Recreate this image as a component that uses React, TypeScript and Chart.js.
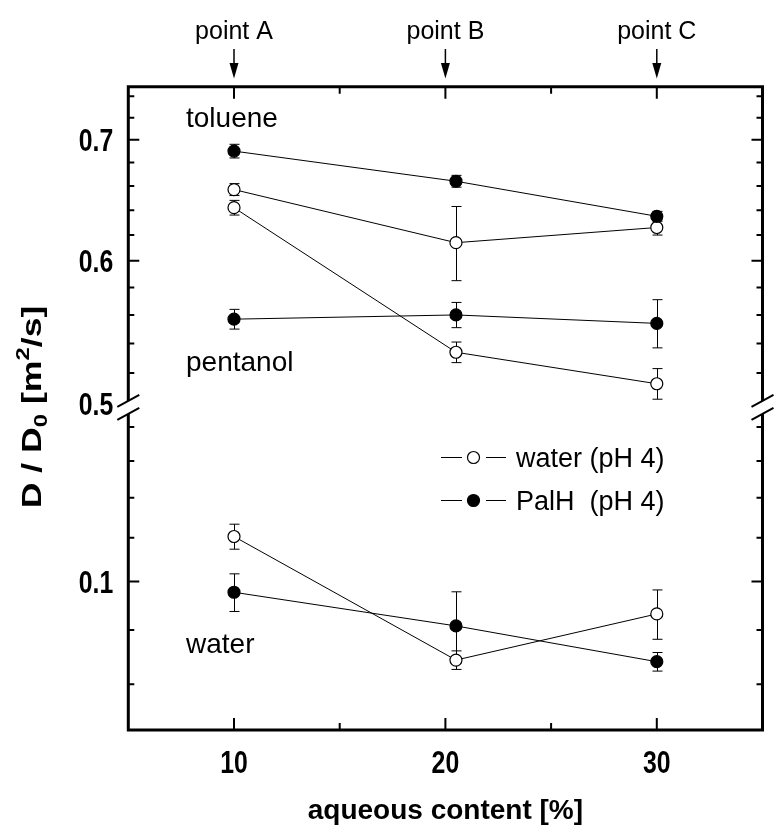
import React, { useEffect, useRef } from "react";
import { Chart, registerables } from "chart.js";

Chart.register(...registerables);

// ---------- data ----------
const xValues = [10, 20.5, 30];

const toluenePalH = [0.69, 0.664, 0.635];
const toluenePalHErr = [0.006, 0.005, 0.004];
const tolueneWater = [0.657, 0.614, 0.626];
const tolueneWaterErr = [0.005, 0.029, 0.006];
const pentanolWater = [0.642, 0.534, 0.513];
const pentanolWaterErr = [0.006, 0.007, 0.01];
const pentanolPalH = [0.557, 0.56, 0.554];
const pentanolPalHErr = [0.007, 0.009, 0.017];
const waterWater = [0.1103, 0.0843, 0.0932];
const waterWaterErr = [0.003, 0.0017, 0.005];
const waterPalH = [0.0977, 0.0908, 0.084];
const waterPalHErr = [0.004, 0.007, 0.0017];

const upperLabelTicks = [0.5, 0.6, 0.7];
const upperMinorTicks = [0.52, 0.54, 0.56, 0.58, 0.62, 0.64, 0.66, 0.68, 0.72, 0.74];
const lowerLabelTicks = [0.1];
const lowerMinorTicks = [0.08, 0.09, 0.11, 0.12, 0.13, 0.14];
const xMajorTicks = [10, 20, 30];
const xMinorTicks = [15, 25];

const pointLabels = ["point A", "point B", "point C"];
const pointPositions = [10, 20, 30];
const solventLabels = ["toluene", "pentanol", "water"];
const legendLabels = ["water (pH 4)", "PalH  (pH 4)"];
const xTitle = "aqueous content [%]";

const SANS = "'Liberation Sans', Arial, Helvetica, sans-serif";

type Series = { values: number[]; errors: number[]; filled: boolean; axis: string };

const seriesList: Series[] = [
  { values: toluenePalH, errors: toluenePalHErr, filled: true, axis: "yU" },
  { values: tolueneWater, errors: tolueneWaterErr, filled: false, axis: "yU" },
  { values: pentanolWater, errors: pentanolWaterErr, filled: false, axis: "yU" },
  { values: pentanolPalH, errors: pentanolPalHErr, filled: true, axis: "yU" },
  { values: waterWater, errors: waterWaterErr, filled: false, axis: "yL" },
  { values: waterPalH, errors: waterPalHErr, filled: true, axis: "yL" },
];

const decorPlugin = {
  id: "decor",
  beforeDatasetsDraw(chart: any) {
    const ctx = chart.ctx;
    const xs = chart.scales.x;
    ctx.save();
    ctx.strokeStyle = "#000";
    ctx.lineWidth = 1;
    seriesList.forEach((s) => {
      const ys = chart.scales[s.axis];
      s.values.forEach((v, i) => {
        const px = Math.round(xs.getPixelForValue(xValues[i])) + 0.5;
        const t = ys.getPixelForValue(v + s.errors[i]);
        const b = ys.getPixelForValue(v - s.errors[i]);
        ctx.beginPath();
        ctx.moveTo(px, t);
        ctx.lineTo(px, b);
        ctx.moveTo(px - 5, t);
        ctx.lineTo(px + 5, t);
        ctx.moveTo(px - 5, b);
        ctx.lineTo(px + 5, b);
        ctx.stroke();
      });
    });
    ctx.restore();
  },
  afterDraw(chart: any) {
    const ctx = chart.ctx;
    const { left, right, top, bottom } = chart.chartArea;
    const xs = chart.scales.x;
    const yU = chart.scales.yU;
    const yL = chart.scales.yL;
    const split = yU.bottom;
    const gapTop = split - 3;
    const gapBot = split + 10;
    ctx.save();
    ctx.strokeStyle = "#000";
    ctx.fillStyle = "#000";

    // frame
    ctx.lineWidth = 3;
    ctx.beginPath();
    ctx.moveTo(left - 1.5, top);
    ctx.lineTo(right + 1.5, top);
    ctx.moveTo(left - 1.5, bottom);
    ctx.lineTo(right + 1.5, bottom);
    [left, right].forEach((x) => {
      ctx.moveTo(x, top);
      ctx.lineTo(x, gapTop);
      ctx.moveTo(x, gapBot);
      ctx.lineTo(x, bottom);
    });
    ctx.stroke();

    // break marks
    ctx.lineWidth = 2;
    ctx.beginPath();
    [left, right].forEach((x) => {
      [gapTop, gapBot].forEach((yc) => {
        ctx.moveTo(x - 11, yc + 6);
        ctx.lineTo(x + 11, yc - 6);
      });
    });
    ctx.stroke();

    // ticks (inward)
    ctx.lineWidth = 2;
    ctx.beginPath();
    const yTick = (scale: any, v: number, len: number) => {
      const p = scale.getPixelForValue(v);
      if (p > gapTop - 2 && p < gapBot + 2) return;
      ctx.moveTo(left, p);
      ctx.lineTo(left + len, p);
      ctx.moveTo(right, p);
      ctx.lineTo(right - len, p);
    };
    upperLabelTicks.forEach((v) => yTick(yU, v, 11));
    upperMinorTicks.forEach((v) => yTick(yU, v, 6));
    lowerLabelTicks.forEach((v) => yTick(yL, v, 11));
    lowerMinorTicks.forEach((v) => yTick(yL, v, 6));
    const xTick = (v: number, len: number) => {
      const p = xs.getPixelForValue(v);
      ctx.moveTo(p, top);
      ctx.lineTo(p, top + len);
      ctx.moveTo(p, bottom);
      ctx.lineTo(p, bottom - len);
    };
    xMajorTicks.forEach((v) => xTick(v, 12));
    xMinorTicks.forEach((v) => xTick(v, 7));
    ctx.stroke();

    // tick labels (condensed bold, placed by the scales)
    const tickLabel = (text: string, x: number, y: number, align: CanvasTextAlign) => {
      ctx.save();
      ctx.translate(x, y);
      ctx.scale(0.8, 1);
      ctx.font = `bold 31px ${SANS}`;
      ctx.textAlign = align;
      ctx.textBaseline = "alphabetic";
      ctx.fillText(text, 0, 11);
      ctx.restore();
    };
    upperLabelTicks.forEach((v) => tickLabel(String(v), left - 15, yU.getPixelForValue(v), "right"));
    lowerLabelTicks.forEach((v) => tickLabel(String(v), left - 15, yL.getPixelForValue(v), "right"));
    xMajorTicks.forEach((v) => tickLabel(String(v), xs.getPixelForValue(v), 762, "center"));

    // point labels and arrows
    ctx.font = `25px ${SANS}`;
    ctx.textAlign = "center";
    ctx.textBaseline = "alphabetic";
    ctx.lineWidth = 1.5;
    pointPositions.forEach((v, i) => {
      const px = xs.getPixelForValue(v);
      ctx.fillText(pointLabels[i], px, 39);
      ctx.beginPath();
      ctx.moveTo(px, 49);
      ctx.lineTo(px, 66);
      ctx.stroke();
      ctx.beginPath();
      ctx.moveTo(px - 4.5, 63);
      ctx.lineTo(px + 4.5, 63);
      ctx.lineTo(px, 78.5);
      ctx.closePath();
      ctx.fill();
    });

    // solvent labels
    ctx.font = `28px ${SANS}`;
    ctx.textAlign = "left";
    const solventBaselines = [127, 371, 653];
    solventLabels.forEach((t, i) => ctx.fillText(t, 186, solventBaselines[i]));

    // legend
    ctx.font = `27px ${SANS}`;
    const legendBaselines = [467, 510];
    legendLabels.forEach((t, i) => {
      const base = legendBaselines[i];
      const cy = base - 9.5;
      ctx.lineWidth = 1;
      ctx.beginPath();
      ctx.moveTo(441, cy);
      ctx.lineTo(462, cy);
      ctx.moveTo(486, cy);
      ctx.lineTo(506, cy);
      ctx.stroke();
      ctx.beginPath();
      ctx.arc(473.5, cy, 6, 0, Math.PI * 2);
      ctx.fillStyle = i === 0 ? "#fff" : "#000";
      ctx.fill();
      ctx.lineWidth = 1.2;
      ctx.stroke();
      ctx.fillStyle = "#000";
      ctx.fillText(t, 516, base);
    });

    // x title
    ctx.font = `bold 28px ${SANS}`;
    ctx.textAlign = "center";
    ctx.fillText(xTitle, (left + right) / 2, 819);

    // y title: D / D0 [m2/s]
    const runs = [
      { t: "D / D", size: 27, dy: 0 },
      { t: "0", size: 18, dy: 6 },
      { t: " [m", size: 27, dy: 0 },
      { t: "2", size: 18, dy: -12 },
      { t: "/s]", size: 27, dy: 0 },
    ];
    ctx.save();
    ctx.translate(41, 407);
    ctx.rotate(-Math.PI / 2);
    ctx.scale(1.32, 1);
    ctx.textAlign = "left";
    let total = 0;
    runs.forEach((r) => {
      ctx.font = `bold ${r.size}px ${SANS}`;
      total += ctx.measureText(r.t).width;
    });
    let cx = -total / 2;
    runs.forEach((r) => {
      ctx.font = `bold ${r.size}px ${SANS}`;
      ctx.fillText(r.t, cx, r.dy);
      cx += ctx.measureText(r.t).width;
    });
    ctx.restore();

    ctx.restore();
  },
};

export default function App() {
  const ref = useRef<HTMLCanvasElement>(null);
  useEffect(() => {
    const datasets = seriesList.map((s) => ({
      data: xValues.map((x, i) => ({ x, y: s.values[i] })),
      yAxisID: s.axis,
      xAxisID: "x",
      showLine: true,
      borderColor: "#000",
      borderWidth: 1,
      pointRadius: 6,
      pointHoverRadius: 6,
      pointBackgroundColor: s.filled ? "#000" : "#fff",
      pointBorderColor: "#000",
      pointBorderWidth: 1.2,
      fill: false,
      tension: 0,
    }));
    const hiddenTicks = { display: false };
    const chart = new Chart(ref.current as HTMLCanvasElement, {
      type: "scatter",
      data: { datasets },
      options: {
        animation: false,
        responsive: false,
        devicePixelRatio: 1,
        events: [],
        layout: { padding: { top: 86.7, right: 13.5, left: 0, bottom: 0 } },
        plugins: { legend: { display: false }, tooltip: { enabled: false }, title: { display: false } },
        scales: {
          x: {
            type: "linear",
            position: "bottom",
            min: 5,
            max: 35,
            grid: { display: false, drawTicks: false },
            border: { display: false },
            ticks: hiddenTicks,
            afterBuildTicks: (s: any) => {
              s.ticks = xMajorTicks.map((v) => ({ value: v }));
            },
            afterFit: (s: any) => {
              s.height = 104;
            },
          },
          yU: {
            type: "logarithmic",
            position: "left",
            stack: "y",
            stackWeight: 317.2,
            weight: 2,
            min: 0.5,
            max: 0.749,
            grid: { display: false, drawTicks: false },
            border: { display: false },
            ticks: hiddenTicks,
            afterBuildTicks: (s: any) => {
              s.ticks = upperLabelTicks.map((v) => ({ value: v }));
            },
            afterFit: (s: any) => {
              s.width = 128.3;
            },
          },
          yL: {
            type: "logarithmic",
            position: "left",
            stack: "y",
            stackWeight: 326.1,
            weight: 1,
            min: 0.0724,
            max: 0.1472,
            grid: { display: false, drawTicks: false },
            border: { display: false },
            ticks: hiddenTicks,
            afterBuildTicks: (s: any) => {
              s.ticks = lowerLabelTicks.map((v) => ({ value: v }));
            },
            afterFit: (s: any) => {
              s.width = 128.3;
            },
          },
        },
      } as any,
      plugins: [decorPlugin],
    });
    return () => chart.destroy();
  }, []);
  return (
    <div style={{ position: "fixed", left: 0, top: 0, width: 776, height: 834, background: "#fff" }}>
      <canvas ref={ref} width={776} height={834} style={{ display: "block", width: 776, height: 834 }} />
    </div>
  );
}
